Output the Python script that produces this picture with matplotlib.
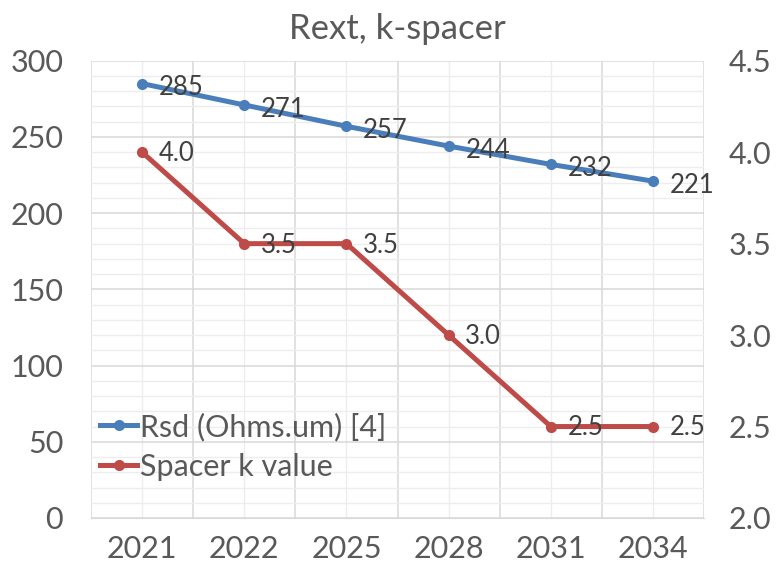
import matplotlib
matplotlib.use("Agg")
import matplotlib.pyplot as plt
from matplotlib.ticker import MultipleLocator

plt.rcParams['font.family'] = ['Lato', 'DejaVu Sans']

# data
years = ["2021", "2022", "2025", "2028", "2031", "2034"]
rsd = [285, 271, 257, 244, 232, 221]
spacer_k = [4.0, 3.5, 3.5, 3.0, 2.5, 2.5]

txt = '#595959'
blue = '#4A7EBB'
red = '#BE4B48'

fig = plt.figure(figsize=(7.78, 5.73), dpi=100)
ax = fig.add_axes([0.117, 0.096, 0.788, 0.798])
ax2 = ax.twinx()

x = list(range(len(years)))

# gridlines
ax.set_ylim(0, 300)
ax.yaxis.set_major_locator(MultipleLocator(50))
ax.yaxis.set_minor_locator(MultipleLocator(10))
ax.grid(which='major', axis='y', color='#D9D9D9', lw=1.1)
ax.grid(which='minor', axis='y', color='#EDEDED', lw=1.0)
ax.set_xlim(-0.5, len(years) - 0.5)
ax.set_xticks(x)
ax.set_xticklabels(years)
ax.set_xticks([i - 0.5 for i in range(len(years) + 1)], minor=True)
ax.grid(which='minor', axis='x', color='#D9D9D9', lw=1.1)
ax.grid(which='major', axis='x', color='#EDEDED', lw=1.0)
ax.set_axisbelow(True)

for a in (ax, ax2):
    for s in a.spines.values():
        s.set_visible(False)
ax.spines['bottom'].set_visible(True)
ax.spines['bottom'].set_color('#D9D9D9')

ax.tick_params(axis='both', which='both', length=0, labelsize=22, labelcolor=txt)
ax.tick_params(axis='y', pad=20)
ax.tick_params(axis='x', pad=12)

ax2.set_ylim(2.0, 4.5)
ax2.yaxis.set_major_locator(MultipleLocator(0.5))
ax2.yaxis.set_major_formatter(matplotlib.ticker.FormatStrFormatter('%.1f'))
ax2.tick_params(axis='y', length=0, labelsize=22, labelcolor=txt, pad=18)

l1, = ax.plot(x, rsd, color=blue, lw=3.6, marker='o', ms=7, label='Rsd (Ohms.um) [4]', zorder=3)
l2, = ax2.plot(x, spacer_k, color=red, lw=3.6, marker='o', ms=7, label='Spacer k value', zorder=3)

for xi, v in zip(x, rsd):
    ax.annotate(str(v), (xi, v), xytext=(12, -3), textcoords='offset points',
                ha='left', va='center', fontsize=18.5, color='#404040')
for xi, v in zip(x, spacer_k):
    ax2.annotate(f"{v:.1f}", (xi, v), xytext=(12, -1), textcoords='offset points',
                 ha='left', va='center', fontsize=18.5, color='#404040')

ax.set_title("Rext, k-spacer", fontsize=25, color=txt, pad=16)

leg = ax.legend(handles=[l1, l2], loc='lower left', bbox_to_anchor=(-0.005, 0.055),
                frameon=False, fontsize=22, handlelength=1.2, handletextpad=0.1,
                labelspacing=0.38, labelcolor=txt, borderaxespad=0)

fig.savefig("out.png", dpi=100, facecolor='white')
